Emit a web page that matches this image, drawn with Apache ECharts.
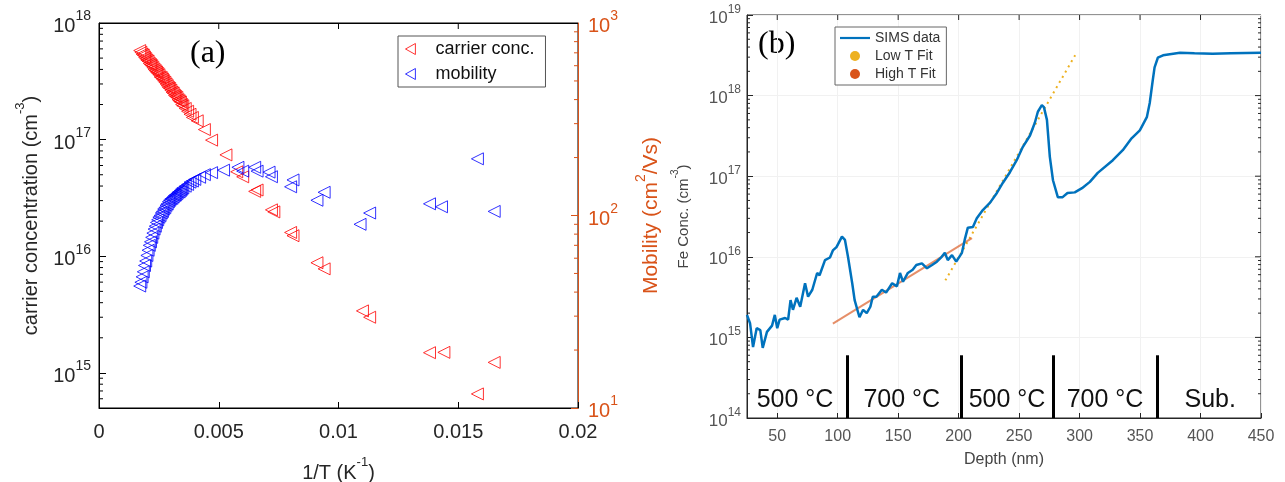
<!DOCTYPE html>
<html>
<head>
<meta charset="utf-8">
<script src="https://cdn.jsdelivr.net/npm/echarts@6/dist/echarts.min.js"></script>
<style>
html, body { margin: 0; padding: 0; background: #fff; }
#wrap { position: relative; width: 1285px; height: 482px; }
#chart { width: 1285px; height: 482px; }
#frameA { position: absolute; left: 99px; top: 23px; width: 479px; height: 385px;
  border-left: 1px solid #000; border-top: 1px solid #000; box-sizing: border-box; pointer-events: none; }
</style>
</head>
<body>
<div id="wrap">
<div id="chart"></div>
<div id="frameA"></div>
</div>
<script>
// ---- panel (a): carrier concentration vs 1/T ----
var concX = [0.0017, 0.00175, 0.0018, 0.00185, 0.0019, 0.00195, 0.0020, 0.00205, 0.0021, 0.00215,
  0.0022, 0.00225, 0.0023, 0.00235, 0.0024, 0.00245, 0.0025, 0.00255, 0.0026, 0.00265,
  0.0027, 0.00275, 0.0028, 0.00285, 0.0029, 0.00295, 0.0030, 0.00305, 0.0031, 0.00315,
  0.0032, 0.00325, 0.0033, 0.00335, 0.0034, 0.00345, 0.0035, 0.0036, 0.0037,
  0.0038, 0.0039, 0.0041, 0.0044, 0.0047, 0.0053, 0.00575, 0.0060, 0.0065, 0.0066, 0.0072,
  0.0073, 0.0080, 0.0081, 0.0091, 0.0094, 0.0110, 0.0113, 0.0138, 0.0144, 0.0158, 0.0165];
var concY = [5.8e17, 5.6e17, 5.4e17, 5.3e17, 5.1e17, 4.95e17, 4.8e17, 4.7e17, 4.5e17, 4.4e17,
  4.3e17, 4.15e17, 4.0e17, 3.9e17, 3.8e17, 3.7e17, 3.6e17, 3.45e17, 3.4e17, 3.3e17,
  3.2e17, 3.1e17, 3.0e17, 2.9e17, 2.8e17, 2.75e17, 2.65e17, 2.55e17, 2.5e17, 2.4e17,
  2.35e17, 2.3e17, 2.2e17, 2.15e17, 2.1e17, 2.0e17, 1.95e17, 1.85e17, 1.75e17,
  1.65e17, 1.55e17, 1.45e17, 1.22e17, 9.9e16, 7.4e16, 5.3e16, 4.8e16, 3.6e16, 3.7e16, 2.5e16,
  2.4e16, 1.6e16, 1.5e16, 8.8e15, 7.8e15, 3.4e15, 3.0e15, 1.49e15, 1.5e15, 6.6e14, 1.23e15];

// ---- panel (a): mobility vs 1/T ----
var mobX = [0.0017, 0.00175, 0.0018, 0.00185, 0.0019, 0.00195, 0.0020, 0.00205, 0.0021, 0.00215,
  0.0022, 0.00225, 0.0023, 0.00235, 0.0024, 0.00245, 0.0025, 0.00255, 0.0026, 0.00265,
  0.0027, 0.00275, 0.0028, 0.00285, 0.0029, 0.00295, 0.0030, 0.00305, 0.0031, 0.00315,
  0.0032, 0.00325, 0.0033, 0.00335, 0.0034, 0.00345, 0.0035, 0.0036, 0.0037,
  0.0038, 0.0039, 0.0040, 0.0042, 0.0044, 0.0047, 0.0052, 0.0058, 0.0060, 0.0065, 0.0066,
  0.0071, 0.0072, 0.0080, 0.0081, 0.0091, 0.0094, 0.0109, 0.0113, 0.0138, 0.0143, 0.0158, 0.0165];
var mobY = [43, 45, 48, 51, 55, 58, 62, 66, 70, 73,
  77, 81, 85, 88, 92, 95, 98, 100, 103, 105,
  108, 110, 113, 115, 118, 120, 122, 123, 125, 127,
  128, 130, 132, 133, 135, 137, 139, 142, 145,
  149, 151, 154, 158, 163, 167, 172, 178, 170, 178, 170,
  168, 159, 141, 153, 120, 132, 90, 103, 115, 111, 197, 105];

var xTicksA = [0.005, 0.01, 0.015];
var xTickLabelsA = ['0', '0.005', '0.01', '0.015', '0.02'];

// ---- panel (b): SIMS depth profile ----
var simsDepth = [25, 27.5, 30, 33, 36, 38, 41.5, 45.7, 48, 50, 52, 56.5, 59, 61, 63, 66, 69, 73,
  75.5, 79, 83, 85, 89.5, 93.6, 96, 99, 103.5, 106, 108.5, 112, 114, 118, 121, 124, 127, 129,
  132, 136.5, 140, 145, 149, 151.5, 154, 158, 162, 165, 169.6, 173.8, 178, 182, 186, 188.6, 191,
  194.5, 198, 202.7, 205, 207.6, 211.8, 215, 220, 226, 231.6, 236.6, 242.4, 248, 253, 259, 263,
  265.5, 268.8, 270.5, 273, 275.4, 278, 282, 286, 290, 296, 302, 308.5, 315, 327.5, 335.7, 343,
  349.8, 355.6, 358, 360.5, 362, 364.7, 369, 383, 395, 410, 425, 450];
var simsConc = [1.9e15, 1.5e15, 7.6e14, 1.3e15, 1.23e15, 7.4e14, 1.17e15, 1.4e15, 1.9e15, 1.3e15,
  1.66e15, 1.74e15, 1.66e15, 2.9e15, 2.2e15, 3.1e15, 2.4e15, 4.7e15, 3.2e15, 3.9e15, 6.3e15,
  5.9e15, 9.1e15, 9.8e15, 1.2e16, 1.32e16, 1.78e16, 1.62e16, 1.0e16, 4.7e15, 2.9e15, 1.78e15,
  2.2e15, 2.0e15, 2.4e15, 3.2e15, 3.2e15, 3.9e15, 3.6e15, 4.7e15, 4.3e15, 6.3e15, 4.9e15, 6.3e15,
  6.9e15, 7.9e15, 8.3e15, 7.2e15, 7.9e15, 8.7e15, 1.0e16, 1.12e16, 9.1e15, 1.05e16, 8.7e15,
  1.12e16, 1.62e16, 2.3e16, 2.35e16, 3.0e16, 3.8e16, 4.7e16, 6.2e16, 8.3e16, 1.12e17, 1.58e17,
  2.3e17, 3.2e17, 4.6e17, 6.3e17, 7.6e17, 7.2e17, 5.0e17, 1.74e17, 8.9e16, 5.5e16, 5.5e16,
  6.2e16, 6.3e16, 7.1e16, 8.5e16, 1.1e17, 1.58e17, 2.1e17, 2.95e17, 3.7e17, 5.4e17, 8.1e17,
  1.55e18, 2.24e18, 2.95e18, 3.16e18, 3.4e18, 3.35e18, 3.3e18, 3.35e18, 3.4e18];
var lowTDepth = [189, 298];
var lowTConc = [5.1e15, 3.5e18];
var highTDepth = [96, 211];
var highTConc = [1.48e15, 1.7e16];

var regionEdges = [107.5, 202.5, 278, 364];
var regionEdgeTop = 6e14;
var regionNames = ['500 °C', '700 °C', '500 °C', '700 °C', 'Sub.'];
var regionCenters = [64.7, 153, 240, 321, 408];
var regionLabelY = 1.66e14;

var minorMant = [2, 3, 4, 5, 6, 7, 8, 9];

var RED = '#ff0000', BLUE = '#0000ff', ORANGE = '#d95319';
var SIMS_BLUE = '#0072bd', LOWT = '#edb120';

function zip(a, b) { return a.map(function (v, i) { return [v, b[i]]; }); }
function minorValues(fromExp, toExp, lo, hi) {
  var out = [];
  for (var e = fromExp; e <= toExp; e++) {
    minorMant.forEach(function (m) {
      var v = m * Math.pow(10, e);
      if (v > lo && v < hi) out.push(v);
    });
  }
  return out;
}
function powLabel(v) {
  var e = Math.round(Math.log10(v));
  if (Math.abs(Math.log10(v) - e) > 1e-6) return '';
  return '{b|10}{s|' + e + '}';
}
function supRich(base, sup, color) {
  return {
    b: { fontSize: base, color: color, verticalAlign: 'bottom', lineHeight: base * 1.35 },
    s: { fontSize: sup, color: color, verticalAlign: 'top', lineHeight: base * 1.35 }
  };
}
// short tick marks along a y edge (log minor ticks), placed through the axes
function yEdgeTicks(xi, yi, xEdge, values, dir, len, color) {
  return {
    type: 'custom', xAxisIndex: xi, yAxisIndex: yi, silent: true, clip: false, z: 5,
    data: values.map(function (v) { return [xEdge, v]; }),
    encode: { x: 0, y: 1 },
    renderItem: function (params, api) {
      var p = api.coord([api.value(0), api.value(1)]);
      return { type: 'line', shape: { x1: p[0], y1: p[1], x2: p[0] + dir * len, y2: p[1] },
        style: { stroke: color, lineWidth: 1 } };
    }
  };
}
// short tick marks along an x edge
function xEdgeTicks(xi, yi, yEdge, values, dir, len, color) {
  return {
    type: 'custom', xAxisIndex: xi, yAxisIndex: yi, silent: true, clip: false, z: 5,
    data: values.map(function (v) { return [v, yEdge]; }),
    encode: { x: 0, y: 1 },
    renderItem: function (params, api) {
      var p = api.coord([api.value(0), api.value(1)]);
      return { type: 'line', shape: { x1: p[0], y1: p[1], x2: p[0], y2: p[1] + dir * len },
        style: { stroke: color, lineWidth: 1 } };
    }
  };
}
function axisLineOf(color) {
  return { show: true, onZero: false, lineStyle: { color: color, width: 1 } };
}
function axisTickOf(color, len) {
  return { show: true, inside: true, length: len, lineStyle: { color: color } };
}

var chart = echarts.init(document.getElementById('chart'), null, { renderer: 'canvas' });
var fontA = 'Liberation Sans, Arial, sans-serif';
var TXT = '#262626', GRAYTXT = '#555555';

var option = {
  animation: false,
  backgroundColor: '#fff',
  textStyle: { fontFamily: fontA },
  grid: [
    { left: 99, top: 23, width: 479, height: 385, containLabel: false, outerBoundsMode: 'none',
      show: true, borderColor: '#000', borderWidth: 1, backgroundColor: 'rgba(0,0,0,0)' },
    { left: 747, top: 15, width: 514, height: 403, containLabel: false, outerBoundsMode: 'none',
      show: true, borderColor: '#262626', borderWidth: 1, backgroundColor: 'rgba(0,0,0,0)' }
  ],
  legend: [
    {
      left: 398, top: 36, orient: 'vertical',
      padding: [4, 11, 4, 7], itemGap: 7, itemWidth: 40, itemHeight: 11,
      backgroundColor: '#fff', borderColor: '#555', borderWidth: 1, borderRadius: 0,
      textStyle: { fontSize: 18, color: '#111', fontFamily: fontA },
      data: [
        { name: 'carrier conc.', icon: 'path://M0,5L9,0L9,10Z',
          itemStyle: { color: 'rgba(0,0,0,0)', borderColor: RED, borderWidth: 1 } },
        { name: 'mobility', icon: 'path://M0,5L9,0L9,10Z',
          itemStyle: { color: 'rgba(0,0,0,0)', borderColor: BLUE, borderWidth: 1 } }
      ]
    },
    {
      left: 835, top: 27, orient: 'vertical',
      padding: [4, 6, 4, 5], itemGap: 4, itemWidth: 30, itemHeight: 10,
      backgroundColor: '#fff', borderColor: '#666', borderWidth: 1, borderRadius: 0,
      textStyle: { fontSize: 14, color: '#333', fontFamily: fontA },
      data: [
        { name: 'SIMS data', icon: 'path://M0,0L30,0L30,2.2L0,2.2Z', itemStyle: { color: SIMS_BLUE } },
        { name: 'Low T Fit', icon: 'circle', itemStyle: { color: LOWT } },
        { name: 'High T Fit', icon: 'circle', itemStyle: { color: ORANGE } }
      ]
    }
  ],
  xAxis: [
    {
      gridIndex: 0, type: 'value', min: 0, max: 0.02, interval: 0.005, position: 'bottom',
      axisLine: axisLineOf('#000'), axisTick: axisTickOf('#000', 6),
      axisLabel: { fontSize: 20, color: TXT, margin: 14,
        formatter: function (v) { return xTickLabelsA[Math.round(v / 0.005)]; } },
      splitLine: { show: false },
      name: '{t|1/T (K}{s|-1}{t|)}', nameLocation: 'middle', nameGap: 48,
      nameTextStyle: { rich: { t: { fontSize: 20, color: TXT, verticalAlign: 'bottom', lineHeight: 27 },
        s: { fontSize: 13, color: TXT, verticalAlign: 'top', lineHeight: 27 } } }
    },
    {
      gridIndex: 1, type: 'value', min: 25, max: 450, splitNumber: 9, position: 'bottom',
      axisLine: axisLineOf('#262626'), axisTick: axisTickOf('#262626', 5),
      axisLabel: { fontSize: 16, color: GRAYTXT, margin: 11, showMinLabel: false,
        formatter: function (v) { return v % 50 === 0 ? String(v) : ''; } },
      splitLine: { show: true, lineStyle: { color: '#f1f1f1' } },
      name: 'Depth (nm)', nameLocation: 'middle', nameGap: 34,
      nameTextStyle: { fontSize: 16, color: '#444' }
    }
  ],
  yAxis: [
    {
      gridIndex: 0, type: 'log', logBase: 10, min: 5e14, max: 1e18, position: 'left',
      axisLine: axisLineOf('#000'), axisTick: axisTickOf('#000', 7),
      axisLabel: { margin: 8, formatter: powLabel, rich: supRich(20, 14, TXT) },
      splitLine: { show: false },
      name: '{t|carrier concentration (cm}{s|-3}{t|)}', nameLocation: 'middle', nameGap: 58, nameRotate: 90,
      nameTextStyle: { rich: { t: { fontSize: 20, color: TXT, verticalAlign: 'bottom', lineHeight: 27 },
        s: { fontSize: 13, color: TXT, verticalAlign: 'top', lineHeight: 27 } } }
    },
    {
      gridIndex: 0, type: 'log', logBase: 10, min: 10, max: 1000, position: 'right',
      axisLine: axisLineOf(ORANGE), axisTick: axisTickOf(ORANGE, 7),
      axisLabel: { margin: 10, formatter: powLabel, rich: supRich(20, 14, ORANGE) },
      splitLine: { show: false },
      name: '{t|Mobility (cm}{s|2}{t|/Vs)}', nameLocation: 'middle', nameGap: 56, nameRotate: 90,
      nameTextStyle: { rich: { t: { fontSize: 21, color: ORANGE, verticalAlign: 'bottom', lineHeight: 28 },
        s: { fontSize: 14, color: ORANGE, verticalAlign: 'top', lineHeight: 28 } } }
    },
    {
      gridIndex: 1, type: 'log', logBase: 10, min: 1e14, max: 1e19, position: 'left',
      axisLine: axisLineOf('#262626'), axisTick: axisTickOf('#262626', 6),
      axisLabel: { margin: 6, formatter: powLabel, rich: supRich(17, 12, GRAYTXT) },
      splitLine: { show: true, lineStyle: { color: '#f1f1f1' } },
      name: '{t|Fe Conc. (cm}{s|-3}{t|)}', nameLocation: 'middle', nameGap: 56, nameRotate: 90,
      nameTextStyle: { rich: { t: { fontSize: 15, color: '#444', verticalAlign: 'bottom', lineHeight: 21 },
        s: { fontSize: 10, color: '#444', verticalAlign: 'top', lineHeight: 21 } } }
    }
  ],
  graphic: [
    { type: 'text', left: 190, top: 38, style: { text: '(a)', font: '32px "Liberation Serif", serif', fill: '#000' } },
    { type: 'text', left: 758, top: 29, style: { text: '(b)', font: '32px "Liberation Serif", serif', fill: '#000' } }
  ],
  series: [
    {
      name: 'carrier conc.', type: 'scatter', xAxisIndex: 0, yAxisIndex: 0,
      data: zip(concX, concY), symbol: 'triangle', symbolRotate: 90, symbolSize: 12,
      itemStyle: { color: 'rgba(0,0,0,0)', borderColor: RED, borderWidth: 1 },
      emphasis: { disabled: true }, z: 3
    },
    {
      name: 'mobility', type: 'scatter', xAxisIndex: 0, yAxisIndex: 1,
      data: zip(mobX, mobY), symbol: 'triangle', symbolRotate: 90, symbolSize: 12,
      itemStyle: { color: 'rgba(0,0,0,0)', borderColor: BLUE, borderWidth: 1 },
      emphasis: { disabled: true }, z: 3
    },
    {
      name: 'SIMS data', type: 'line', xAxisIndex: 1, yAxisIndex: 2,
      data: zip(simsDepth, simsConc), symbol: 'none', smooth: false,
      lineStyle: { color: SIMS_BLUE, width: 2.5 }, itemStyle: { color: SIMS_BLUE },
      emphasis: { disabled: true }, z: 4,
      markLine: {
        silent: true, symbol: 'none', label: { show: false },
        lineStyle: { color: '#000', width: 3, type: 'solid' },
        data: regionEdges.map(function (d) { return [{ coord: [d, 1e14] }, { coord: [d, regionEdgeTop] }]; })
      },
      markPoint: {
        silent: true, symbol: 'circle', symbolSize: 1, itemStyle: { color: 'rgba(0,0,0,0)' },
        label: { show: true, position: 'inside', formatter: '{b}', fontSize: 25, color: '#111', fontFamily: fontA },
        data: regionNames.map(function (n, i) { return { name: n, coord: [regionCenters[i], regionLabelY] }; })
      }
    },
    {
      name: 'Low T Fit', type: 'line', xAxisIndex: 1, yAxisIndex: 2,
      data: zip(lowTDepth, lowTConc), symbol: 'none',
      lineStyle: { color: LOWT, width: 2, type: [2, 4] }, itemStyle: { color: LOWT },
      emphasis: { disabled: true }, z: 3
    },
    {
      name: 'High T Fit', type: 'line', xAxisIndex: 1, yAxisIndex: 2,
      data: zip(highTDepth, highTConc), symbol: 'none',
      lineStyle: { color: ORANGE, width: 2, opacity: 0.65 }, itemStyle: { color: ORANGE },
      emphasis: { disabled: true }, z: 3
    },
    // left/right log minor ticks and the box ticks on top / right
    yEdgeTicks(0, 0, 0, minorValues(14, 17, 5e14, 1e18), 1, 4, '#000'),
    yEdgeTicks(0, 1, 0.02, minorValues(1, 2, 10, 1000), -1, 4, ORANGE),
    xEdgeTicks(0, 0, 1e18, xTicksA, 1, 6, '#000'),
    yEdgeTicks(1, 2, 25, minorValues(14, 18, 1e14, 1e19), 1, 3, '#262626'),
    yEdgeTicks(1, 2, 450, minorValues(14, 18, 1e14, 1e19), -1, 3, '#262626'),
    yEdgeTicks(1, 2, 450, [1e15, 1e16, 1e17, 1e18], -1, 6, '#262626'),
    xEdgeTicks(1, 2, 1e19, [50, 100, 150, 200, 250, 300, 350, 400], 1, 5, '#262626')
  ]
};
chart.setOption(option);
</script>
</body>
</html>
